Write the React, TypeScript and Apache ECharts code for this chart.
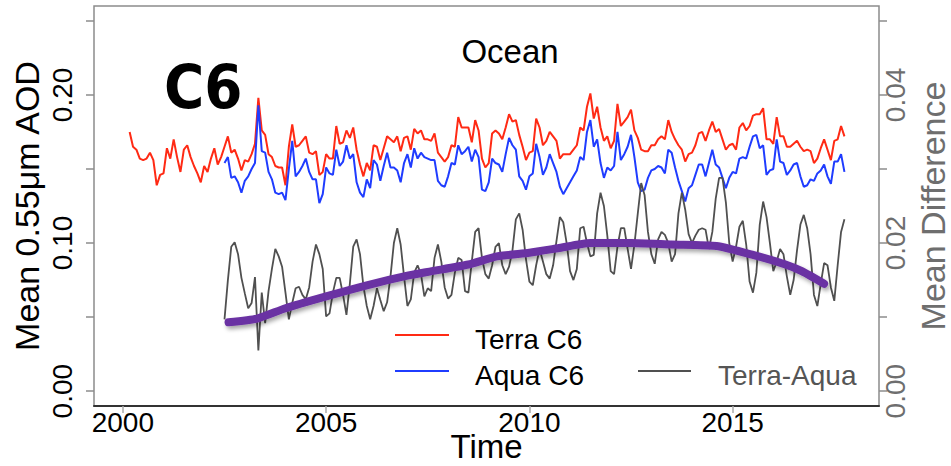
import React, { useEffect, useRef } from "react";
import * as echarts from "echarts";

// Month index counted from January 2000 (0 = Jan 2000)
const terraStartMonth = 2; // Mar 2000
const aquaStartMonth = 30; // Jul 2002
const diffStartMonth = 30; // Jul 2002

const terraC6 = [
  0.175, 0.165, 0.163, 0.157, 0.156, 0.157, 0.161, 0.156, 0.139, 0.146,
  0.147, 0.164, 0.157, 0.170, 0.158, 0.148, 0.163, 0.166, 0.158, 0.152, 0.147, 0.141,
  0.152, 0.148, 0.157, 0.164, 0.153, 0.158, 0.165, 0.172, 0.161, 0.163, 0.157, 0.149,
  0.156, 0.155, 0.160, 0.167, 0.198, 0.176, 0.173, 0.160, 0.158, 0.152, 0.151, 0.151,
  0.139, 0.165, 0.180, 0.165, 0.166, 0.169, 0.172, 0.161, 0.160, 0.162, 0.146, 0.148,
  0.160, 0.157, 0.157, 0.179, 0.167, 0.168, 0.176, 0.171, 0.178, 0.163, 0.153, 0.145,
  0.154, 0.149, 0.166, 0.165, 0.156, 0.164, 0.172, 0.170, 0.168, 0.172, 0.162, 0.171,
  0.172, 0.163, 0.177, 0.174, 0.176, 0.170, 0.170, 0.169, 0.174, 0.161, 0.158, 0.155,
  0.158, 0.166, 0.165, 0.185, 0.178, 0.178, 0.178, 0.168, 0.183, 0.176, 0.157, 0.151,
  0.154, 0.174, 0.176, 0.174, 0.170, 0.178, 0.187, 0.182, 0.183, 0.173, 0.165, 0.156,
  0.161, 0.162, 0.184, 0.178, 0.166, 0.169, 0.175, 0.172, 0.169, 0.157, 0.160, 0.160,
  0.160, 0.163, 0.166, 0.178, 0.176, 0.192, 0.201, 0.184, 0.192, 0.178, 0.169, 0.172,
  0.164, 0.169, 0.194, 0.179, 0.182, 0.185, 0.190, 0.176, 0.171, 0.163, 0.162, 0.162,
  0.166, 0.166, 0.170, 0.172, 0.170, 0.183, 0.175, 0.170, 0.166, 0.163, 0.155, 0.160,
  0.161, 0.166, 0.174, 0.175, 0.169, 0.176, 0.182, 0.175, 0.177, 0.170, 0.163, 0.166,
  0.167, 0.163, 0.178, 0.181, 0.176, 0.179, 0.186, 0.187, 0.187, 0.191, 0.170, 0.170,
  0.167, 0.185, 0.172, 0.172, 0.165, 0.165, 0.167, 0.169, 0.165, 0.162, 0.163, 0.162,
  0.154, 0.157, 0.164, 0.170, 0.163, 0.156, 0.169, 0.170, 0.179, 0.172,
];

const aquaC6 = [
  0.154, 0.158, 0.144, 0.145, 0.141, 0.134,
  0.142, 0.145, 0.150, 0.154, 0.193, 0.162, 0.161, 0.148, 0.143, 0.134, 0.133, 0.134,
  0.129, 0.150, 0.169, 0.145, 0.148, 0.152, 0.157, 0.148, 0.143, 0.143, 0.127, 0.133,
  0.151, 0.147, 0.146, 0.163, 0.152, 0.155, 0.166, 0.157, 0.160, 0.141, 0.134, 0.131,
  0.143, 0.137, 0.156, 0.153, 0.142, 0.152, 0.161, 0.151, 0.151, 0.149, 0.141, 0.154,
  0.160, 0.151, 0.164, 0.157, 0.161, 0.158, 0.157, 0.156, 0.156, 0.142, 0.139, 0.138,
  0.145, 0.154, 0.153, 0.166, 0.160, 0.162, 0.165, 0.155, 0.163, 0.158, 0.136, 0.135,
  0.141, 0.157, 0.154, 0.153, 0.148, 0.160, 0.171, 0.166, 0.163, 0.145, 0.142, 0.136,
  0.145, 0.147, 0.167, 0.158, 0.146, 0.151, 0.160, 0.154, 0.148, 0.138, 0.133, 0.137,
  0.141, 0.145, 0.149, 0.158, 0.156, 0.175, 0.183, 0.165, 0.170, 0.154, 0.144, 0.151,
  0.149, 0.152, 0.175, 0.156, 0.160, 0.165, 0.173, 0.158, 0.141, 0.135, 0.136, 0.144,
  0.149, 0.150, 0.152, 0.151, 0.147, 0.163, 0.161, 0.151, 0.142, 0.135, 0.128, 0.137,
  0.139, 0.146, 0.153, 0.153, 0.145, 0.154, 0.163, 0.153, 0.151, 0.144, 0.137, 0.144,
  0.148, 0.147, 0.157, 0.158, 0.157, 0.165, 0.172, 0.173, 0.164, 0.166, 0.146, 0.149,
  0.150, 0.170, 0.155, 0.154, 0.146, 0.149, 0.153, 0.154, 0.145, 0.138, 0.139, 0.143,
  0.142, 0.147, 0.149, 0.153, 0.145, 0.140, 0.155, 0.155, 0.160, 0.148,
];

const terraMinusAqua = [
  0.0097, 0.0150, 0.0195, 0.0201, 0.0185, 0.0153,
  0.0132, 0.0112, 0.0119, 0.0154, 0.0055, 0.0133, 0.0092, 0.0135, 0.0165, 0.0192, 0.0182, 0.0168,
  0.0133, 0.0097, 0.0119, 0.0139, 0.0141, 0.0130, 0.0124, 0.0140, 0.0175, 0.0198, 0.0185, 0.0165,
  0.0101, 0.0105, 0.0133, 0.0153, 0.0153, 0.0130, 0.0103, 0.0145, 0.0195, 0.0205, 0.0185, 0.0142,
  0.0115, 0.0097, 0.0115, 0.0139, 0.0123, 0.0108, 0.0120, 0.0155, 0.0200, 0.0220, 0.0198, 0.0155,
  0.0115, 0.0124, 0.0160, 0.0170, 0.0158, 0.0128, 0.0139, 0.0135, 0.0180, 0.0198, 0.0175, 0.0140,
  0.0125, 0.0130, 0.0160, 0.0180, 0.0177, 0.0135, 0.0133, 0.0175, 0.0215, 0.0220, 0.0180, 0.0158,
  0.0152, 0.0170, 0.0195, 0.0200, 0.0170, 0.0158, 0.0168, 0.0190, 0.0232, 0.0240, 0.0218, 0.0178,
  0.0148, 0.0143, 0.0170, 0.0192, 0.0175, 0.0158, 0.0152, 0.0170, 0.0203, 0.0235, 0.0228, 0.0200,
  0.0162, 0.0150, 0.0165, 0.0220, 0.0222, 0.0200, 0.0182, 0.0184, 0.0240, 0.0268, 0.0250, 0.0210,
  0.0162, 0.0158, 0.0195, 0.0220, 0.0220, 0.0192, 0.0165, 0.0198, 0.0240, 0.0281, 0.0265, 0.0215,
  0.0185, 0.0172, 0.0205, 0.0215, 0.0211, 0.0200, 0.0175, 0.0185, 0.0240, 0.0268, 0.0245, 0.0212,
  0.0200, 0.0210, 0.0218, 0.0220, 0.0218, 0.0192, 0.0215, 0.0260, 0.0288, 0.0288, 0.0255, 0.0200,
  0.0175, 0.0195, 0.0222, 0.0230, 0.0198, 0.0148, 0.0133, 0.0160, 0.0225, 0.0256, 0.0235, 0.0200,
  0.0162, 0.0175, 0.0192, 0.0185, 0.0155, 0.0130, 0.0150, 0.0190, 0.0225, 0.0238, 0.0220, 0.0185,
  0.0130, 0.0115, 0.0145, 0.0173, 0.0170, 0.0140, 0.0122, 0.0170, 0.0215, 0.0232,
];

const trendYears = [2002.6, 2003.3, 2004.0, 2005.0, 2006.0, 2007.0, 2007.6, 2008.5, 2009.2, 2010.0, 2010.7, 2011.5, 2012.5, 2013.5, 2014.6, 2015.5, 2016.3, 2016.7, 2017.25];
const trendValues = [0.0093, 0.0098, 0.0112, 0.0128, 0.0143, 0.0156, 0.0162, 0.0171, 0.0182, 0.0187, 0.0193, 0.0200, 0.0200, 0.0198, 0.0196, 0.0184, 0.0171, 0.0162, 0.0145];

const xTicks = [2000, 2005, 2010, 2015];
const leftTicks = [0, 0.05, 0.1, 0.15, 0.2, 0.25];
const leftLabels = [0, 0.1, 0.2];
const rightTicks = [0, 0.01, 0.02, 0.03, 0.04, 0.05];
const rightLabels = [0, 0.02, 0.04];

const FONT = '"Liberation Sans", Arial, Helvetica, sans-serif';
const GREY_AXIS = "#8c8c8c";

function toPairs(startMonth: number, values: number[]) {
  return values.map((v, i) => [2000 + (startMonth + i) / 12, v]);
}

export default function App() {
  const ref = useRef<HTMLDivElement>(null);

  useEffect(() => {
    document.body.style.margin = "0";
    if (!ref.current) return;
    const chart = echarts.init(ref.current, undefined, { renderer: "svg" });
    const option: any = {
      animation: false,
      backgroundColor: "#ffffff",
      grid: {
        left: 94,
        right: 72,
        top: 6,
        bottom: 60,
        show: true,
        borderColor: GREY_AXIS,
        borderWidth: 1.5,
        backgroundColor: "transparent",
        containLabel: false,
        outerBoundsMode: "none",
      },
      xAxis: {
        type: "value",
        min: 1999.29,
        max: 2018.6,
        name: "Time",
        nameLocation: "middle",
        nameGap: 27,
        nameMoveOverlap: false,
        nameTextStyle: { fontSize: 33, lineHeight: 26, fontFamily: FONT, color: "#000" },
        axisLine: { show: true, onZero: false, lineStyle: { color: "#333", width: 2 } },
        splitLine: { show: false },
        axisTick: {
          show: true,
          customValues: xTicks,
          length: 7,
          lineStyle: { color: "#aaa", width: 1.5 },
        },
        axisLabel: {
          customValues: xTicks,
          fontSize: 28,
          lineHeight: 22,
          fontFamily: FONT,
          color: "#000",
          margin: 5,
          formatter: (v: number) => String(Math.round(v)),
        },
      },
      yAxis: [
        {
          type: "value",
          position: "left",
          min: -0.01,
          max: 0.26,
          name: "Mean 0.55\u03bcm AOD",
          nameLocation: "middle",
          nameRotate: 90,
          nameGap: 50,
          nameMoveOverlap: false,
          nameTextStyle: { fontSize: 34, fontFamily: FONT, color: "#000" },
          axisLine: { show: false, onZero: false },
          splitLine: { show: false },
          axisTick: {
            show: true,
            customValues: leftTicks,
            length: 8,
            lineStyle: { color: GREY_AXIS, width: 1.5 },
          },
          axisLabel: {
            customValues: leftLabels,
            rotate: 90,
            fontSize: 28,
            fontFamily: FONT,
            color: "#000",
            margin: 18,
            formatter: (v: number) => v.toFixed(2),
          },
        },
        {
          type: "value",
          position: "right",
          min: -0.002,
          max: 0.052,
          name: "Mean Difference",
          nameLocation: "middle",
          nameRotate: 90,
          nameGap: 37,
          nameMoveOverlap: false,
          nameTextStyle: { fontSize: 34, fontFamily: FONT, color: "#6e6e6e" },
          axisLine: { show: false, onZero: false },
          splitLine: { show: false },
          axisTick: {
            show: true,
            customValues: rightTicks,
            length: 8,
            lineStyle: { color: GREY_AXIS, width: 1.5 },
          },
          axisLabel: {
            customValues: rightLabels,
            rotate: 90,
            fontSize: 28,
            fontFamily: FONT,
            color: "#6e6e6e",
            margin: 2,
            formatter: (v: number) => v.toFixed(2),
          },
        },
      ],
      series: [
        {
          name: "Terra C6",
          type: "line",
          data: toPairs(terraStartMonth, terraC6),
          symbol: "none",
          lineStyle: { color: "#ff2a14", width: 2 },
          itemStyle: { color: "#ff2a14" },
          z: 2,
        },
        {
          name: "Aqua C6",
          type: "line",
          data: toPairs(aquaStartMonth, aquaC6),
          symbol: "none",
          lineStyle: { color: "#1f3cff", width: 2 },
          itemStyle: { color: "#1f3cff" },
          z: 3,
        },
        {
          name: "Terra-Aqua",
          type: "line",
          yAxisIndex: 1,
          data: toPairs(diffStartMonth, terraMinusAqua),
          symbol: "none",
          lineStyle: { color: "#505050", width: 1.8 },
          itemStyle: { color: "#505050" },
          z: 4,
        },
        {
          name: "Trend",
          type: "line",
          yAxisIndex: 1,
          data: trendYears.map((t, i) => [t, trendValues[i]]),
          symbol: "none",
          smooth: 0.2,
          lineStyle: {
            color: "#6b30a3",
            width: 8,
            cap: "round",
            join: "round",
            shadowColor: "rgba(0,0,0,0.35)",
            shadowBlur: 4,
            shadowOffsetX: 2,
            shadowOffsetY: 3,
          },
          itemStyle: { color: "#6b30a3" },
          z: 5,
        },
      ],
      graphic: [
        {
          type: "text",
          x: 510,
          y: 51,
          style: {
            text: "Ocean",
            fontSize: 33,
            fontFamily: FONT,
            fill: "#000",
            align: "center",
            verticalAlign: "middle",
          },
        },
        {
          type: "text",
          x: 164,
          y: 86,
          style: {
            text: "C6",
            fontSize: 61,
            fontWeight: "bold",
            fontFamily: '"Liberation Sans Narrow", "DejaVu Sans Condensed", sans-serif',
            fill: "#000",
            align: "left",
            verticalAlign: "middle",
          },
        },
        {
          type: "line",
          shape: { x1: 395, y1: 335, x2: 449, y2: 335 },
          style: { stroke: "#ff2a14", lineWidth: 2 },
        },
        {
          type: "text",
          x: 475,
          y: 339,
          style: {
            text: "Terra C6",
            fontSize: 28,
            fontFamily: FONT,
            fill: "#000",
            align: "left",
            verticalAlign: "middle",
          },
        },
        {
          type: "line",
          shape: { x1: 395, y1: 371, x2: 449, y2: 371 },
          style: { stroke: "#1f3cff", lineWidth: 2 },
        },
        {
          type: "text",
          x: 475,
          y: 375,
          style: {
            text: "Aqua C6",
            fontSize: 28,
            fontFamily: FONT,
            fill: "#000",
            align: "left",
            verticalAlign: "middle",
          },
        },
        {
          type: "line",
          shape: { x1: 638, y1: 371, x2: 691, y2: 371 },
          style: { stroke: "#505050", lineWidth: 2 },
        },
        {
          type: "text",
          x: 718,
          y: 375,
          style: {
            text: "Terra-Aqua",
            fontSize: 28,
            fontFamily: FONT,
            fill: "#555",
            align: "left",
            verticalAlign: "middle",
          },
        },
      ],
    };
    chart.setOption(option);
    return () => {
      chart.dispose();
    };
  }, []);

  return <div ref={ref} style={{ width: 951, height: 466 }} />;
}
